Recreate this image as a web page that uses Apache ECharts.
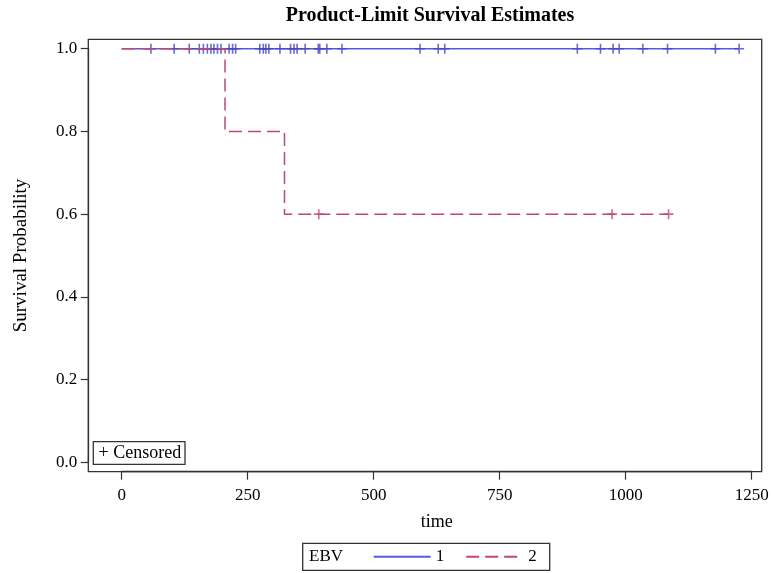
<!DOCTYPE html>
<html>
<head>
<meta charset="utf-8">
<script src="https://cdn.jsdelivr.net/npm/echarts@6/dist/echarts.min.js"></script>
<style>html,body{margin:0;padding:0;background:#fff;}#c{width:771px;height:573px;}</style>
</head>
<body>
<div id="c"></div>
<script>
// ---- data ----
const chartTitle = 'Product-Limit Survival Estimates';
const xName = 'time';
const yName = 'Survival Probability';
const legendTitle = 'EBV';
const groupNames = ['1', '2'];
const xTicks = [0, 250, 500, 750, 1000, 1250];
const yTicks = [0, 0.2, 0.4, 0.6, 0.8, 1.0];

// EBV = 1: step curve (time, survival) and censored times
const ebv1Times = [0, 1225];
const ebv1Surv = [1.0, 1.0];
const ebv1Censored = [58, 104, 134, 154, 162, 170, 177, 183, 190, 197, 213, 220, 226,
  274, 281, 286, 292, 314, 335, 342, 348, 364, 390, 393, 407, 437, 592, 628, 641,
  904, 950, 975, 987, 1034, 1083, 1178, 1225];
const ebv1CensoredSurv = ebv1Censored.map(() => 1.0);

// EBV = 2
const ebv2Times = [0, 205, 323, 1085];
const ebv2Surv = [1.0, 0.8, 0.6, 0.6];
const ebv2Censored = [391, 973, 1085];
const ebv2CensoredSurv = [0.6, 0.6, 0.6];

// ---- styling ----
const FONT = "'Liberation Serif', 'Times New Roman', serif";
const BLUE = '#5a5ae0';
const BLUE_MARK = '#4646c8';
const RED = '#c0486c';
const FRAME = '#333';
const plus = 'path://M4.2,0H5.8V10H4.2Z M0,4.2H10V5.8H0Z';

const zip = (a, b) => a.map((v, i) => [v, b[i]]);

const chart = echarts.init(document.getElementById('c'), null, {renderer: 'canvas'});
chart.setOption({
  animation: false,
  backgroundColor: '#fff',
  title: {
    text: chartTitle,
    left: 430, top: 6, textAlign: 'center',
    padding: 0,
    textStyle: {fontFamily: FONT, fontSize: 20, fontWeight: 'bold', color: '#000'}
  },
  grid: {left: 121.7, right: 19.3, top: 48.7, bottom: 110.7, containLabel: false, outerBoundsMode: 'none'},
  xAxis: {
    type: 'value', min: xTicks[0], max: xTicks[xTicks.length - 1], interval: 250,
    offset: 9.4,
    axisLine: {show: true, onZero: false, lineStyle: {color: FRAME, width: 1.3}},
    axisTick: {show: true, length: 8, lineStyle: {color: FRAME, width: 1.2}},
    splitLine: {show: false},
    axisLabel: {margin: 15, fontFamily: FONT, fontSize: 17, color: '#000',
      formatter: v => String(v)},
    name: xName, nameLocation: 'middle', nameGap: 42,
    nameTextStyle: {fontFamily: FONT, fontSize: 18, color: '#000'}
  },
  yAxis: {
    type: 'value', min: yTicks[0], max: yTicks[yTicks.length - 1], interval: 0.2,
    offset: 33.4,
    axisLine: {show: true, onZero: false, lineStyle: {color: FRAME, width: 1.3}},
    axisTick: {show: true, length: 7.5, lineStyle: {color: FRAME, width: 1.2}},
    splitLine: {show: false},
    axisLabel: {margin: 11, fontFamily: FONT, fontSize: 17, color: '#000',
      formatter: v => v.toFixed(1)},
    name: yName, nameLocation: 'middle', nameGap: 58, nameRotate: 90,
    nameTextStyle: {fontFamily: FONT, fontSize: 19, color: '#000'}
  },
  legend: {
    data: groupNames,
    left: 302.7, top: 543.3,
    orient: 'horizontal',
    padding: [5, 13, 5, 70],
    itemWidth: 57, itemHeight: 14, itemGap: 21,
    borderColor: FRAME, borderWidth: 1.3,
    itemStyle: {opacity: 0},
    textStyle: {fontFamily: FONT, fontSize: 17, color: '#000'},
    selectedMode: false
  },
  graphic: [
    {type: 'rect', shape: {x: 88.3, y: 39.3, width: 673.4, height: 432.4},
      style: {fill: 'none', stroke: FRAME, lineWidth: 1.3}, z: 0, silent: true},
    {type: 'rect', shape: {x: 93.3, y: 441.7, width: 91.7, height: 22.6},
      style: {fill: '#fff', stroke: FRAME, lineWidth: 1.3}, z: 5, silent: true},
    {type: 'text', x: 98.5, y: 453.5, z: 6, silent: true,
      style: {text: '+ Censored', font: '18px ' + FONT, fill: '#000', textVerticalAlign: 'middle'}},
    {type: 'text', x: 309, y: 556.5, z: 6, silent: true,
      style: {text: legendTitle, font: '17px ' + FONT, fill: '#000', textVerticalAlign: 'middle'}}
  ],
  series: [
    {
      name: groupNames[0], type: 'line', step: 'end', symbol: 'none',
      data: zip(ebv1Times, ebv1Surv),
      lineStyle: {color: BLUE, width: 1.5}, itemStyle: {color: BLUE}, z: 2
    },
    {
      name: 'censored-1', type: 'scatter', symbol: plus, symbolSize: 10,
      data: zip(ebv1Censored, ebv1CensoredSurv),
      itemStyle: {color: BLUE_MARK}, z: 3
    },
    {
      name: groupNames[1], type: 'line', step: 'end', symbol: 'none',
      data: zip(ebv2Times, ebv2Surv),
      lineStyle: {color: RED, width: 1.5, type: [13, 6]}, itemStyle: {color: RED}, z: 4
    },
    {
      name: 'censored-2', type: 'scatter', symbol: plus, symbolSize: 10,
      data: zip(ebv2Censored, ebv2CensoredSurv),
      itemStyle: {color: RED}, z: 5
    }
  ]
});
</script>
</body>
</html>
